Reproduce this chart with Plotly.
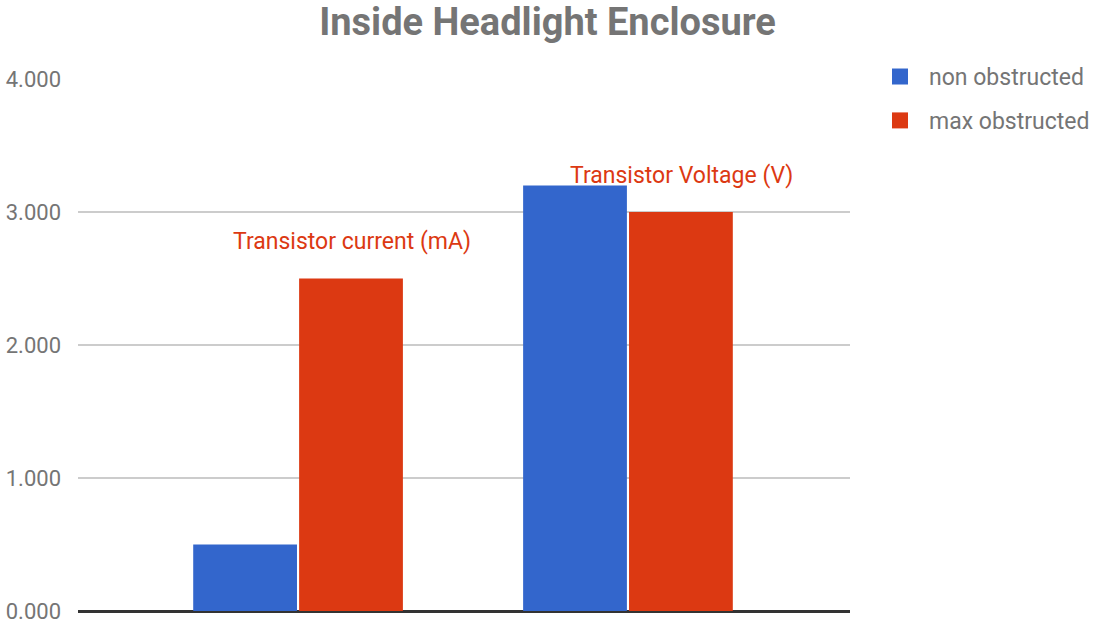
import plotly.graph_objects as go

categories = ["Transistor current (mA)", "Transistor Voltage (V)"]
non_obstructed = [0.5, 3.2]
max_obstructed = [2.5, 3.0]
annotation_labels = ["Transistor current (mA)", "Transistor Voltage (V)"]
y_ticks = [0, 1, 2, 3, 4]
y_tick_labels = ["0.000", "1.000", "2.000", "3.000", "4.000"]

FONT = "Roboto, Noto Sans, sans-serif"
BLUE = "#3366CC"
RED = "#DC3912"
x_idx = list(range(len(categories)))

fig = go.Figure()
fig.add_trace(go.Bar(x=x_idx, y=non_obstructed, name="non obstructed",
                     marker=dict(color=BLUE, line=dict(width=0)), showlegend=False))
fig.add_trace(go.Bar(x=x_idx, y=max_obstructed, name="max obstructed",
                     marker=dict(color=RED, line=dict(width=0)), showlegend=False))
# legend proxies (larger square swatches)
for name, col, grp in [("non obstructed", BLUE, "a"), ("max obstructed", RED, "b")]:
    fig.add_trace(go.Scatter(x=[None], y=[None], mode="markers", name=name,
                             marker=dict(symbol="square", size=16, color=col),
                             legendgroup=grp, showlegend=True))

for i, (v, lab) in enumerate(zip(max_obstructed, annotation_labels)):
    fig.add_annotation(x=i, y=v, xref="x", yref="y", text=lab, showarrow=False,
                       xshift=54, yshift=37, yanchor="middle",
                       font=dict(family=FONT, size=23, color=RED))

fig.update_layout(
    width=1095, height=624,
    margin=dict(l=78, r=245, t=79, b=13, autoexpand=False),
    paper_bgcolor="white", plot_bgcolor="white",
    barmode="group", bargap=0.358, bargroupgap=0.02,
    title=dict(text="<b>Inside Headlight Enclosure</b>", x=0.5, xanchor="center",
               y=0.965, yanchor="middle",
               font=dict(family=FONT, size=38, color="#757575")),
    showlegend=True,
    legend=dict(x=1.0 + 21 / 772, xanchor="left", y=1.045, yanchor="top",
                font=dict(family=FONT, size=23, color="#757575"),
                traceorder="grouped", tracegroupgap=11, itemwidth=48,
                itemsizing="trace"),
    xaxis=dict(range=[-0.667, 1.673], showticklabels=False, showgrid=False,
               zeroline=False, showline=False, ticks="", automargin=False),
    yaxis=dict(range=[0, 4], tickvals=y_ticks, ticktext=y_tick_labels,
               showgrid=True, gridcolor="#CCCCCC", gridwidth=1.5,
               zeroline=True, zerolinecolor="#333333", zerolinewidth=2.5,
               showline=False, ticks="", ticklabelstandoff=16, automargin=False,
               tickfont=dict(family=FONT, size=22, color="#757575")),
)

fig.write_html("out.html", config={"displayModeBar": False},
               post_script="document.body.style.margin='0';document.body.style.overflow='hidden';")
